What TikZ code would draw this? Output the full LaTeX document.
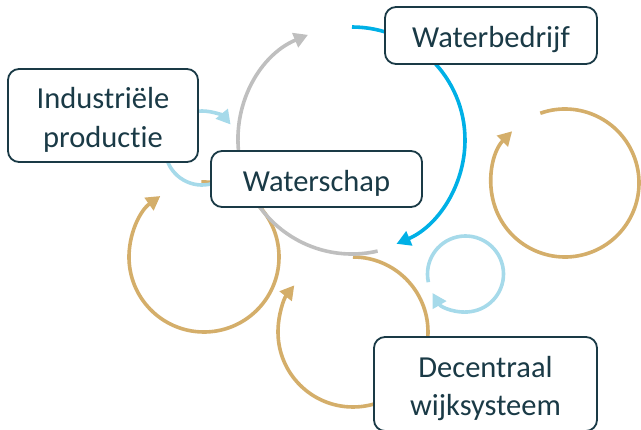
\documentclass[tikz,border=0pt]{standalone}
\usepackage{fontspec}
\setmainfont{Carlito}[Ligatures={NoCommon}]
\usetikzlibrary{arrows.meta}
\definecolor{ink}{RGB}{26,58,70}
\definecolor{goldline}{RGB}{212,174,106}
\definecolor{greyline}{RGB}{191,191,191}
\definecolor{blueline}{RGB}{0,176,230}
\definecolor{paleblue}{RGB}{166,218,234}
\tikzset{
  box/.style={draw=ink, line width=1.8pt, rounded corners=11pt, fill=white,
    text=ink, align=center, font=\fontsize{30.5}{38.5}\selectfont,
    text height=26pt, text depth=1pt, inner sep=0pt},
  twoline/.style={box, text height=64.5pt},
  loop/.style={line width=3.6pt, -{Triangle[length=14pt,width=15pt]}},
}
\begin{document}
\begin{tikzpicture}[x=1pt,y=1pt]
\useasboundingbox (0,0) rectangle (641,-430);

% centres of the circular arrows
\coordinate (cbig) at (352,-140);
\coordinate (cpaleA) at (202,-148);
\coordinate (cpaleB) at (465.5,-274);
\coordinate (cgoldL) at (204,-257);
\coordinate (cgoldR) at (565,-183);
\coordinate (cgoldM) at (353,-332);

% gold cycles
\draw[loop, goldline] ([shift={(92:75)}]cgoldL) arc[start angle=92, end angle=-234.4, radius=75];
\draw[loop, goldline] ([shift={(109.5:74)}]cgoldR) arc[start angle=109.5, end angle=-224.4, radius=74];
\draw[loop, goldline] ([shift={(90:75)}]cgoldM) arc[start angle=90, end angle=-218.5, radius=75];

% large cycle: grey and blue parts
\draw[loop, greyline] ([shift={(-77:114)}]cbig) arc[start angle=-77, end angle=-247.3, radius=114];
\draw[loop, blueline] ([shift={(90:113)}]cbig) arc[start angle=90, end angle=-66.8, radius=113];

% small pale blue cycles
\draw[loop, paleblue] ([shift={(-30:37)}]cpaleA) arc[start angle=-30, end angle=-320.6, radius=37];
\draw[loop, paleblue] ([shift={(192.5:38)}]cpaleB) arc[start angle=192.5, end angle=-150, radius=38];

% actors
\node[box, minimum width=212, minimum height=57] (wb) at (491,-35.5) {Waterbedrijf};
\node[twoline, minimum width=190, minimum height=93] (ip) at (103,-115.5) {Industriële\\productie};
\node[box, minimum width=211, minimum height=56] (ws) at (316.5,-179) {Waterschap};
\node[twoline, minimum width=223, minimum height=94] (dw) at (485.5,-384) {Decentraal\\wijksysteem};
\end{tikzpicture}
\end{document}
